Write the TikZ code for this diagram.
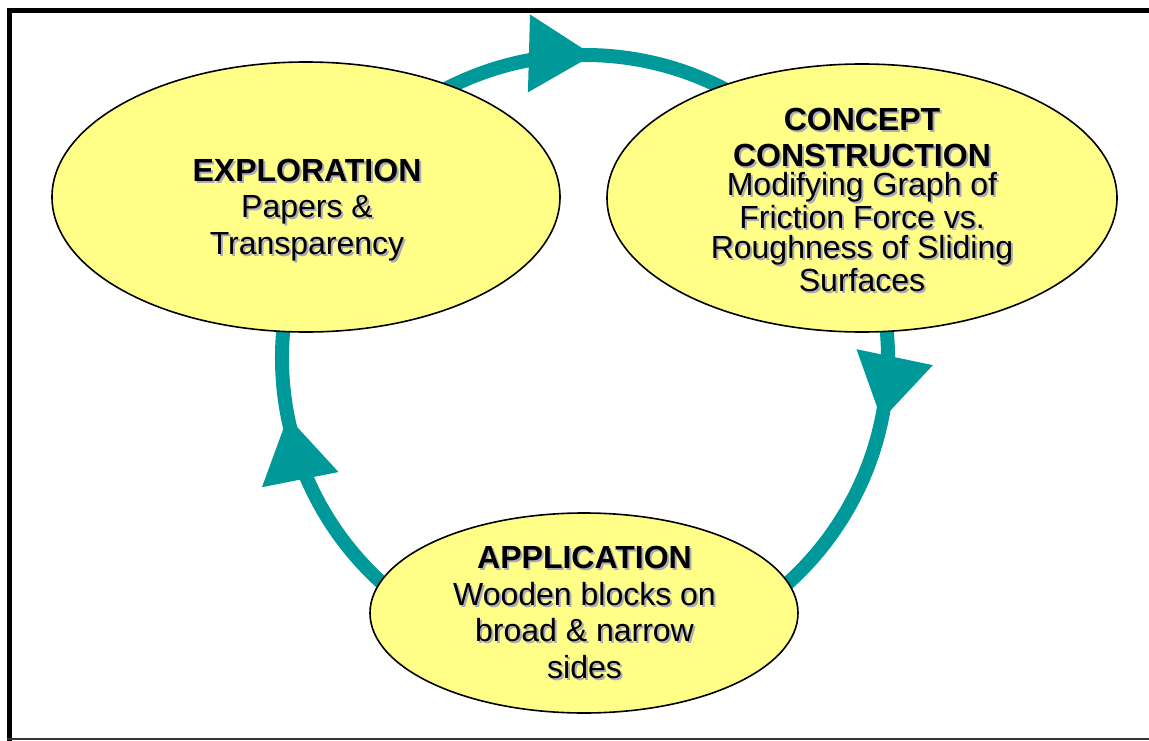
\documentclass[tikz,border=0pt]{standalone}
\usepackage{fontspec}
\setmainfont{Liberation Sans}
\usetikzlibrary{shapes.geometric,decorations.markings,backgrounds}
\definecolor{cycteal}{RGB}{0,153,153}
\definecolor{bubblefill}{RGB}{255,255,136}
\definecolor{shadowgray}{RGB}{170,170,185}
\newcommand\shd[1]{\rlap{\kern2pt\raisebox{-2pt}{\textcolor{shadowgray}{#1}}}#1}
\begin{document}
\begin{tikzpicture}[x=1pt,y=-1pt,
  bubble/.style={ellipse, draw=black, line width=1.6pt, fill=bubblefill, inner sep=0pt},
  txt/.style={align=center, font=\fontsize{32}{36.5}\selectfont, anchor=base, inner sep=0pt},
  cyc/.style={draw=cycteal, line width=14pt},
  tipat/.style={postaction={decorate, decoration={markings,
      mark=at position #1 with {\fill[cycteal] (0pt,0pt) -- (-64pt,39pt) -- (-64pt,-39pt) -- cycle;}}}}
]
\useasboundingbox (0,0) rectangle (1149,741);
% frame
\coordinate (fbl) at (9.5,741);
\coordinate (ftl) at (9.5,10.5);
\coordinate (ftr) at (1149,10.5);
\coordinate (bl) at (7,739);
\coordinate (br) at (1149,739);
\draw[line width=4.6pt] (fbl) -- (ftl) -- (ftr);
\draw[line width=2pt, black!80] (bl) -- (br);
% bubbles
\node[bubble, minimum width=508pt, minimum height=270pt] (expl) at (306,197) {};
\node[bubble, minimum width=510pt, minimum height=268pt] (conc) at (862,198) {};
\node[bubble, minimum width=428pt, minimum height=200pt] (appl) at (584,613) {};
% texts (anchor base = baseline of the last line)
\node[txt] (explT) at (307,254)
  {\shd{\textbf{EXPLORATION}}\\\shd{Papers \&}\\\shd{Transparency}};
\node[txt, font=\fontsize{32}{29.5}\selectfont] (concT) at (862,291)
  {\shd{\textbf{CONCEPT}}\\[6pt]\shd{\textbf{CONSTRUCTION}}\\\shd{Modifying Graph of}\\\shd{Friction Force vs.}\\\shd{Roughness of Sliding}\\\shd{Surfaces}};
\node[txt] (applT) at (584.5,678)
  {\shd{\textbf{APPLICATION}}\\\shd{Wooden blocks on}\\\shd{broad \& narrow}\\\shd{sides}};
% cycle arrows
\coordinate (hub) at (585,358);
\begin{scope}[on background layer]
\fill[white] (0,0) rectangle (1149,741);
\draw[cyc, tipat=0.515] ([shift={(-140:303)}]hub) arc[start angle=-140, end angle=-40, radius=303];
\draw[cyc, tipat=0.335] ([shift={(-10:303)}]hub) arc[start angle=-10, end angle=55, radius=303];
\draw[cyc, tipat=0.584] ([shift={(125:303)}]hub) arc[start angle=125, end angle=200, radius=303];
\end{scope}
\end{tikzpicture}
\end{document}
